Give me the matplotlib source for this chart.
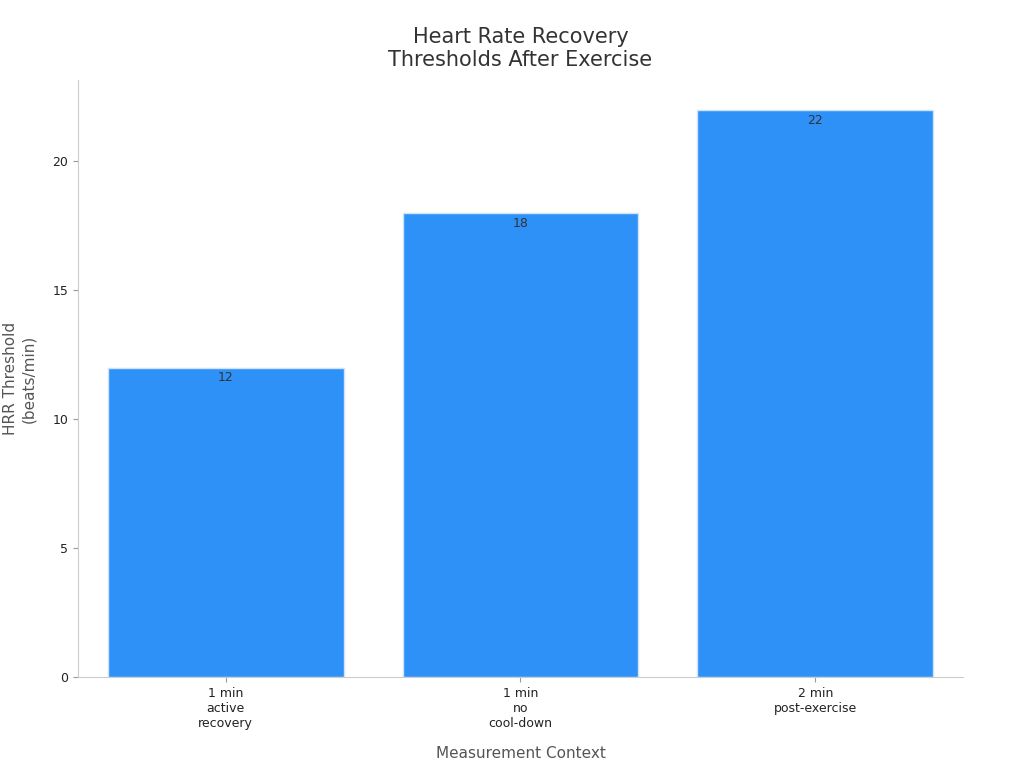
import matplotlib.pyplot as plt

categories = ["1 min\nactive\nrecovery", "1 min\nno\ncool-down", "2 min\npost-exercise"]
thresholds = [12, 18, 22]

fig = plt.figure(figsize=(10.24, 7.68), dpi=100)
ax = fig.add_axes([0.0762, 0.1185, 0.8642, 0.7773])

x = range(len(categories))
bars = ax.bar(x, thresholds, width=0.8, color="#2E91F8", edgecolor="#cfe3fb", linewidth=1)
for b, v in zip(bars, thresholds):
    ax.text(b.get_x() + b.get_width() / 2, v - 0.15, str(v), ha="center", va="top",
            fontsize=9, color="#333333")

ax.set_xlim(-0.5, 2.5)
ax.set_ylim(0, 23.15)
ax.set_yticks([0, 5, 10, 15, 20])
ax.set_xticks(list(x))
ax.set_xticklabels(categories, fontsize=9, color="#222222")
ax.tick_params(axis="y", labelsize=9, colors="#222222")
ax.tick_params(color="#999999")
for s in ["top", "right"]:
    ax.spines[s].set_visible(False)
for s in ["left", "bottom"]:
    ax.spines[s].set_color("#cccccc")

ax.set_xlabel("Measurement Context", fontsize=11, color="#555555", labelpad=12)
ax.set_ylabel("HRR Threshold\n(beats/min)", fontsize=11, color="#555555", labelpad=12)
ax.set_title("Heart Rate Recovery\nThresholds After Exercise", fontsize=15, color="#333333", pad=10)

fig.savefig("out.png", dpi=100)
